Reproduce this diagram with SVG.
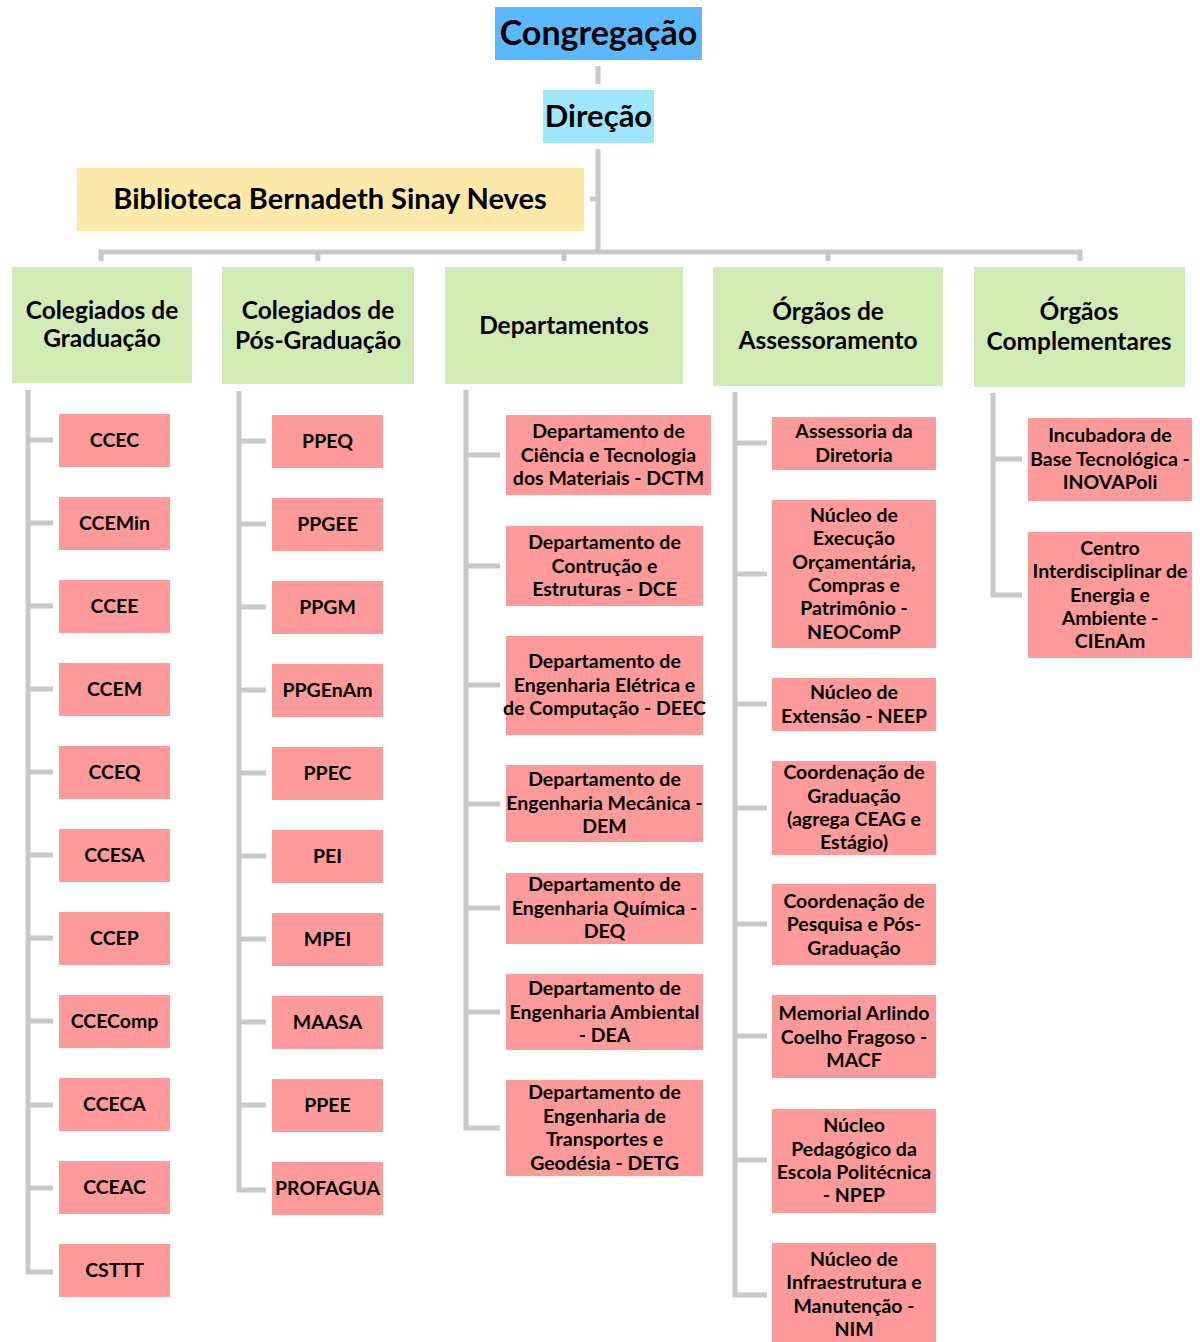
<svg xmlns="http://www.w3.org/2000/svg" width="1200" height="1342" viewBox="0 0 1200 1342">
<style>
text{font-family:Lato,"Liberation Sans",sans-serif;font-weight:bold;fill:#000;text-anchor:middle}
.c{fill:none;stroke:#c8c8c8;stroke-width:5}
.p{fill:#fe9a9a}
.g{fill:#d2eab4}
.t{font-size:19.5px}
.h{font-size:24.5px}
</style>
<rect width="1200" height="1342" fill="#fff"/>
<g id="connectors" class="c">
<path d="M598,66V84"/>
<path d="M598,149V252M590,199H598"/>
<path d="M101,261V252H1080V261M318,252V261M564,252V261M828,252V261"/>
<path d="M28,390V1272H53M28,440H53M28,523H53M28,606H53M28,689H53M28,772H53M28,855H53M28,938H53M28,1021H53M28,1105H53M28,1188H53"/>
<path d="M239,391V1190H266M239,441H266M239,524H266M239,607H266M239,690H266M239,773H266M239,856H266M239,939H266M239,1022H266M239,1105H266"/>
<path d="M466,390V1128H500M466,455H500M466,566H500M466,685H500M466,804H500M466,908H500M466,1012H500"/>
<path d="M735,392V1295H767M735,443H767M735,574H767M735,704H767M735,808H767M735,924H767M735,1036H767M735,1160H767"/>
<path d="M993,393V595H1022M993,459H1022"/>
</g>
<g id="congregacao"><rect x="495" y="7" width="207" height="53" fill="#5bb8fd"/><text x="598.5" y="45" font-size="34">Congregação</text></g>
<g id="direcao"><rect x="543" y="90" width="111" height="53" fill="#9de6fd"/><text x="598.5" y="127" font-size="31">Direção</text></g>
<g id="biblioteca"><rect x="77" y="168" width="507" height="63" fill="#fee9ab"/><text x="330" y="209" font-size="29">Biblioteca Bernadeth Sinay Neves</text></g>

<g id="col-graduacao"><rect class="g" x="12" y="267" width="180" height="116"/><text class="h" x="102" y="319">Colegiados de</text><text class="h" x="102" y="347">Graduação</text></g>
<g id="col-posgraduacao"><rect class="g" x="222" y="267" width="192" height="117"/><text class="h" x="318" y="319">Colegiados de</text><text class="h" x="318" y="349">Pós-Graduação</text></g>
<g id="departamentos"><rect class="g" x="445" y="267" width="238" height="117"/><text class="h" x="564" y="334">Departamentos</text></g>
<g id="assessoramento"><rect class="g" x="713" y="267" width="230" height="119"/><text class="h" x="828" y="320">Órgãos de</text><text class="h" x="828" y="349">Assessoramento</text></g>
<g id="complementares"><rect class="g" x="974" y="267" width="211" height="120"/><text class="h" x="1079" y="320">Órgãos</text><text class="h" x="1079" y="350">Complementares</text></g>

<g id="ccec"><rect class="p" x="59" y="414" width="111" height="53"/><text class="t" x="114.5" y="447">CCEC</text></g>
<g id="ccemin"><rect class="p" x="59" y="497" width="111" height="53"/><text class="t" x="114.5" y="530">CCEMin</text></g>
<g id="ccee"><rect class="p" x="59" y="580" width="111" height="53"/><text class="t" x="114.5" y="613">CCEE</text></g>
<g id="ccem"><rect class="p" x="59" y="663" width="111" height="53"/><text class="t" x="114.5" y="696">CCEM</text></g>
<g id="cceq"><rect class="p" x="59" y="746" width="111" height="53"/><text class="t" x="114.5" y="779">CCEQ</text></g>
<g id="ccesa"><rect class="p" x="59" y="829" width="111" height="53"/><text class="t" x="114.5" y="862">CCESA</text></g>
<g id="ccep"><rect class="p" x="59" y="912" width="111" height="53"/><text class="t" x="114.5" y="945">CCEP</text></g>
<g id="ccecomp"><rect class="p" x="59" y="995" width="111" height="53"/><text class="t" x="114.5" y="1028">CCEComp</text></g>
<g id="cceca"><rect class="p" x="59" y="1078" width="111" height="53"/><text class="t" x="114.5" y="1111">CCECA</text></g>
<g id="cceac"><rect class="p" x="59" y="1161" width="111" height="53"/><text class="t" x="114.5" y="1194">CCEAC</text></g>
<g id="csttt"><rect class="p" x="59" y="1244" width="111" height="53"/><text class="t" x="114.5" y="1277">CSTTT</text></g>

<g id="ppeq"><rect class="p" x="272" y="415" width="111" height="53"/><text class="t" x="327.5" y="448">PPEQ</text></g>
<g id="ppgee"><rect class="p" x="272" y="498" width="111" height="53"/><text class="t" x="327.5" y="531">PPGEE</text></g>
<g id="ppgm"><rect class="p" x="272" y="581" width="111" height="53"/><text class="t" x="327.5" y="614">PPGM</text></g>
<g id="ppgenam"><rect class="p" x="272" y="664" width="111" height="53"/><text class="t" x="327.5" y="697">PPGEnAm</text></g>
<g id="ppec"><rect class="p" x="272" y="747" width="111" height="53"/><text class="t" x="327.5" y="780">PPEC</text></g>
<g id="pei"><rect class="p" x="272" y="830" width="111" height="53"/><text class="t" x="327.5" y="863">PEI</text></g>
<g id="mpei"><rect class="p" x="272" y="913" width="111" height="53"/><text class="t" x="327.5" y="946">MPEI</text></g>
<g id="maasa"><rect class="p" x="272" y="996" width="111" height="53"/><text class="t" x="327.5" y="1029">MAASA</text></g>
<g id="ppee"><rect class="p" x="272" y="1079" width="111" height="53"/><text class="t" x="327.5" y="1112">PPEE</text></g>
<g id="profagua"><rect class="p" x="272" y="1162" width="111" height="53"/><text class="t" x="327.5" y="1195">PROFAGUA</text></g>

<g id="dctm"><rect class="p" x="506" y="415" width="205" height="80"/><text class="t" x="608.5" y="438">Departamento de</text><text class="t" x="608.5" y="461.5">Ciência e Tecnologia</text><text class="t" x="608.5" y="485">dos Materiais - DCTM</text></g>
<g id="dce"><rect class="p" x="506" y="526" width="197" height="80"/><text class="t" x="604.5" y="549">Departamento de</text><text class="t" x="604.5" y="572.5">Contrução e</text><text class="t" x="604.5" y="596">Estruturas - DCE</text></g>
<g id="deec"><rect class="p" x="506" y="636" width="197" height="99"/><text class="t" x="604.5" y="668">Departamento de</text><text class="t" x="604.5" y="691.5">Engenharia Elétrica e</text><text class="t" x="604.5" y="715">de Computação - DEEC</text></g>
<g id="dem"><rect class="p" x="506" y="765" width="197" height="77"/><text class="t" x="604.5" y="786">Departamento de</text><text class="t" x="604.5" y="809.5">Engenharia Mecânica -</text><text class="t" x="604.5" y="833">DEM</text></g>
<g id="deq"><rect class="p" x="506" y="873" width="197" height="71"/><text class="t" x="604.5" y="891">Departamento de</text><text class="t" x="604.5" y="914.5">Engenharia Química -</text><text class="t" x="604.5" y="938">DEQ</text></g>
<g id="dea"><rect class="p" x="506" y="974" width="197" height="76"/><text class="t" x="604.5" y="995">Departamento de</text><text class="t" x="604.5" y="1018.5">Engenharia Ambiental</text><text class="t" x="604.5" y="1042">- DEA</text></g>
<g id="detg"><rect class="p" x="506" y="1080" width="197" height="96"/><text class="t" x="604.5" y="1099">Departamento de</text><text class="t" x="604.5" y="1122.5">Engenharia de</text><text class="t" x="604.5" y="1146">Transportes e</text><text class="t" x="604.5" y="1169.5">Geodésia - DETG</text></g>

<g id="assessoria"><rect class="p" x="772" y="417" width="164" height="53"/><text class="t" x="854" y="438">Assessoria da</text><text class="t" x="854" y="461.5">Diretoria</text></g>
<g id="neocomp"><rect class="p" x="772" y="500" width="164" height="148"/><text class="t" x="854" y="522">Núcleo de</text><text class="t" x="854" y="545">Execução</text><text class="t" x="854" y="569">Orçamentária,</text><text class="t" x="854" y="592">Compras e</text><text class="t" x="854" y="615">Patrimônio -</text><text class="t" x="854" y="639">NEOComP</text></g>
<g id="neep"><rect class="p" x="772" y="678" width="164" height="53"/><text class="t" x="854" y="699">Núcleo de</text><text class="t" x="854" y="722.5">Extensão - NEEP</text></g>
<g id="coord-grad"><rect class="p" x="772" y="761" width="164" height="94"/><text class="t" x="854" y="779">Coordenação de</text><text class="t" x="854" y="803">Graduação</text><text class="t" x="854" y="826">(agrega CEAG e</text><text class="t" x="854" y="849">Estágio)</text></g>
<g id="coord-pesq"><rect class="p" x="772" y="884" width="164" height="81"/><text class="t" x="854" y="908">Coordenação de</text><text class="t" x="854" y="931">Pesquisa e Pós-</text><text class="t" x="854" y="955">Graduação</text></g>
<g id="macf"><rect class="p" x="772" y="995" width="164" height="83"/><text class="t" x="854" y="1020">Memorial Arlindo</text><text class="t" x="854" y="1044">Coelho Fragoso -</text><text class="t" x="854" y="1067">MACF</text></g>
<g id="npep"><rect class="p" x="772" y="1109" width="164" height="104"/><text class="t" x="854" y="1132">Núcleo</text><text class="t" x="854" y="1156">Pedagógico da</text><text class="t" x="854" y="1179">Escola Politécnica</text><text class="t" x="854" y="1202">- NPEP</text></g>
<g id="nim"><rect class="p" x="772" y="1243" width="164" height="110"/><text class="t" x="854" y="1266">Núcleo de</text><text class="t" x="854" y="1289">Infraestrutura e</text><text class="t" x="854" y="1313">Manutenção -</text><text class="t" x="854" y="1336">NIM</text></g>

<g id="inovapoli"><rect class="p" x="1028" y="418" width="164" height="83"/><text class="t" x="1110" y="442">Incubadora de</text><text class="t" x="1110" y="466">Base Tecnológica -</text><text class="t" x="1110" y="489">INOVAPoli</text></g>
<g id="cienam"><rect class="p" x="1028" y="532" width="164" height="126"/><text class="t" x="1110" y="555">Centro</text><text class="t" x="1110" y="578">Interdisciplinar de</text><text class="t" x="1110" y="602">Energia e</text><text class="t" x="1110" y="625">Ambiente -</text><text class="t" x="1110" y="648">CIEnAm</text></g>
</svg>
